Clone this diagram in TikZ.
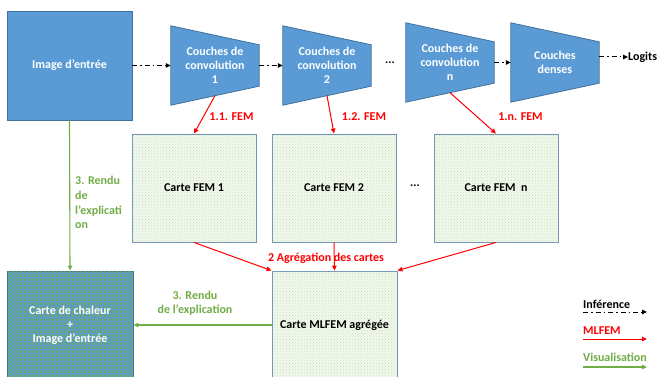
\documentclass[tikz,border=0pt]{standalone}
\usepackage{fontspec}
\setmainfont{Carlito}
\usetikzlibrary{arrows.meta,calc,patterns,backgrounds}
\definecolor{offblue}{HTML}{5B9BD5}
\definecolor{offborder}{HTML}{41719C}
\definecolor{offgreen}{HTML}{70AD47}
\definecolor{offred}{HTML}{FF0000}
\definecolor{cardgreen}{HTML}{C5E0B4}
\definecolor{cardfill}{HTML}{F3F8EF}
\definecolor{cardborder}{HTML}{6F90B8}
\pgfdeclarepatternformonly{finechecker}{\pgfpointorigin}{\pgfqpoint{4pt}{4pt}}{\pgfqpoint{4pt}{4pt}}{%
  \pgfpathrectangle{\pgfpointorigin}{\pgfqpoint{2pt}{2pt}}%
  \pgfpathrectangle{\pgfqpoint{2pt}{2pt}}{\pgfqpoint{2pt}{2pt}}%
  \pgfusepath{fill}}
\tikzset{
  txt/.style={font=\fontsize{12}{14}\selectfont\bfseries, align=center, inner sep=0pt},
  bluebox/.style={txt, draw=offborder, fill=offblue, text=white, line width=0.8pt},
  convbox/.style={txt, text=white, minimum width=88pt, minimum height=79pt},
  trap/.style={draw=offborder, fill=offblue, line width=0.8pt, line join=miter},
  card/.style={txt, draw=cardborder, line width=0.9pt, fill=cardfill,
    postaction={pattern=crosshatch dots, pattern color=cardgreen},
    minimum width=124pt, minimum height=108pt},
  heatbox/.style={txt, draw=offborder, line width=0.9pt, fill=offblue, text=white,
    postaction={pattern=finechecker, pattern color=offgreen},
    minimum width=126pt, minimum height=108pt},
  tip/.style={-{Triangle[length=5pt,width=4.5pt]}},
  inf/.style={tip, line width=1pt, dash pattern=on 5pt off 3pt on 1.5pt off 3pt},
  fem/.style={tip, draw=offred, line width=1pt},
  vis/.style={tip, draw=offgreen, line width=1.1pt},
  redlbl/.style={txt, text=offred},
  greenlbl/.style={txt, text=offgreen},
}
\begin{document}
\begin{tikzpicture}[x=1pt,y=-1pt]
\clip (0,0) rectangle (659,377);

% input image
\node[bluebox, minimum width=125pt, minimum height=109pt] (img) at (69.5,65.5) {Image d’entrée};

% trapezoid layers
\node[convbox] (c1) at (215,65.5) {Couches de\\convolution\\1};
\node[convbox] (c2) at (327,65.5) {Couches de\\convolution\\2};
\node[convbox] (cn) at (450,62.5) {Couches de\\convolution\\n};
\node[convbox] (dense) at (555,62.5) {Couches\\denses};
\begin{scope}[on background layer]
\foreach \n in {c1,c2,cn,dense}
  \filldraw[trap] (\n.north west) -- ([yshift=-19pt]\n.north east) -- ([yshift=19pt]\n.south east) -- (\n.south west) -- cycle;
\end{scope}
\coordinate (c1b) at ([yshift=9.5pt]c1.south);
\coordinate (c2b) at ([yshift=9.5pt]c2.south);
\coordinate (cnb) at ([yshift=9.5pt]cn.south);

\node[txt] (dots1) at (390,63) {...};
\node[txt, anchor=west] (logits) at (628,57) {Logits};

% inference arrows
\draw[inf] (img.east) -- (c1.west);
\draw[inf] (c1.east) -- (c2.west);
\draw[inf] (cn.east) -- (dense.west);
\draw[inf] (dense.east |- logits.west) -- (logits.west);

% FEM cards
\node[card] (f1) at (194,188) {Carte FEM 1};
\node[card] (f2) at (334,188) {Carte FEM 2};
\node[card] (fn) at (496,188) {Carte FEM\hspace{0.45em}n};
\node[txt] (dots2) at (415,186) {...};

\draw[fem] (c1b) -- (f1.north);
\draw[fem] (c2b) -- (f2.north);
\draw[fem] (cnb) -- (fn.north);
\node[redlbl] (l11) at (231.5,117) {1.1. FEM};
\node[redlbl] (l12) at (364,117) {1.2. FEM};
\node[redlbl] (l1n) at (520.5,117) {1.n. FEM};

% aggregated map
\node[card, minimum width=125pt] (ml) at (334.5,325) {Carte MLFEM agrégée};
\draw[fem] (f1.south) -- (ml.north west);
\draw[fem] (f2.south) -- (ml.north);
\draw[fem] (fn.south) -- (ml.north east);
\node[redlbl] (agg) at (326,258) {2 Agrégation des cartes};

% heat map
\node[heatbox] (heat) at (70,325) {Carte de chaleur\\+\\Image d’entrée};
\draw[vis] (img.south) -- (heat.north);
\node[greenlbl, anchor=west, align=left, font=\fontsize{12}{14.7}\selectfont\bfseries] (r1) at (75,202.5) {3. Rendu\\de\\l’explicati\\on};
\draw[vis] (ml.west) -- (heat.east);
\node[greenlbl] (r2) at (195,303.5) {3. Rendu\\de l’explication};

% legend
\node[txt, anchor=west] (lg1) at (583,304) {Inférence};
\coordinate (la1) at (583,312);
\coordinate (lb1) at (647,312);
\draw[inf] (la1) -- (lb1);
\node[redlbl, anchor=west] (lg2) at (583,331) {MLFEM};
\coordinate (la2) at (583,339);
\coordinate (lb2) at (647,339);
\draw[fem] (la2) -- (lb2);
\node[greenlbl, anchor=west] (lg3) at (583,357) {Visualisation};
\coordinate (la3) at (583,367);
\coordinate (lb3) at (647,367);
\draw[vis] (la3) -- (lb3);
\end{tikzpicture}
\end{document}
